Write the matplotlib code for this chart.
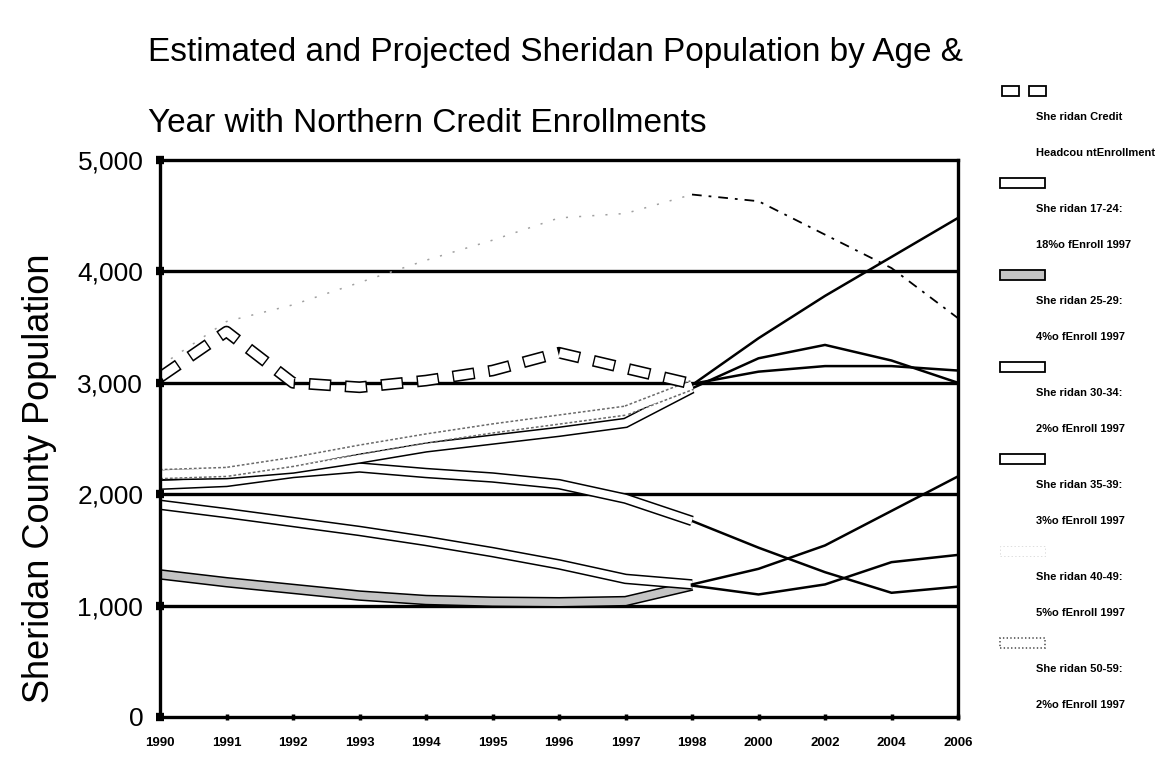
"""Sheridan population by age with credit enrollments"""
import numpy as np
import matplotlib
matplotlib.use("Agg")
import matplotlib.pyplot as plt
from matplotlib.patches import Rectangle

plt.rcParams['font.family'] = ['Liberation Sans', 'DejaVu Sans']
plt.rcParams['lines.scale_dashes'] = False

# categorias del eje x
anios = ['1990', '1991', '1992', '1993', '1994', '1995', '1996', '1997',
         '1998', '2000', '2002', '2004', '2006']

# estimados 1990-1998
matricula = [3050, 3460, 3000, 2960, 3020, 3110, 3270, 3130, 2990]
edad_17_24 = [1905, 1830, 1750, 1670, 1580, 1480, 1370, 1240, 1190]
edad_25_29 = [1280, 1210, 1150, 1090, 1050, 1035, 1030, 1040, 1180]
edad_30_34 = [2085, 2110, 2190, 2240, 2190, 2150, 2090, 1960, 1760]
edad_35_39 = [2170, 2180, 2230, 2320, 2420, 2490, 2560, 2640, 2950]
edad_40_49 = [3150, 3550, 3700, 3900, 4100, 4280, 4480, 4520, 4690]
edad_50_59 = [2180, 2200, 2290, 2400, 2500, 2590, 2670, 2750, 2980]

# proyecciones 1998-2006
proy_matricula = [2990, 3100, 3150, 3150, 3110]
proy_17_24 = [1190, 1330, 1540, 1850, 2160]
proy_25_29 = [1180, 1100, 1190, 1390, 1455]
proy_30_34 = [1760, 1520, 1300, 1115, 1170]
proy_35_39 = [2950, 3220, 3340, 3200, 3000]
proy_40_49 = [4690, 4630, 4330, 4030, 3580]
proy_50_59 = [2980, 3400, 3780, 4130, 4480]

leyenda = [
    ('She ridan Credit', 'Headcou ntEnrollment'),
    ('She ridan 17-24:', '18%o fEnroll 1997'),
    ('She ridan 25-29:', '4%o fEnroll 1997'),
    ('She ridan 30-34:', '2%o fEnroll 1997'),
    ('She ridan 35-39:', '3%o fEnroll 1997'),
    ('She ridan 40-49:', '5%o fEnroll 1997'),
    ('She ridan 50-59:', '2%o fEnroll 1997'),
]

W, H = 1175, 757
fig = plt.figure(figsize=(W / 100, H / 100), dpi=100)
ax = fig.add_axes([160 / W, 1 - 717 / H, 798 / W, 557 / H])

x_hist = np.arange(9)
x_proy = np.arange(8, 13)


def hueca(x, y, interior='white', borde='black', ls_borde='-', z=3):
    """Linea gruesa hueca (borde negro, relleno claro)"""
    ax.plot(x, y, color=borde, lw=7.6, ls=ls_borde, solid_capstyle='butt',
            solid_joinstyle='miter', zorder=z)
    ax.plot(x, y, color=interior, lw=5.4, solid_capstyle='butt',
            solid_joinstyle='miter', zorder=z + 0.1)


# proyecciones finas
for serie in [proy_matricula, proy_17_24, proy_25_29, proy_30_34, proy_35_39, proy_50_59]:
    ax.plot(x_proy, serie, color='black', lw=1.8, zorder=4)
ax.plot(x_proy, proy_40_49, color='black', lw=1.3, ls=(0, (7, 5, 2, 5)), zorder=4)

# estimados huecos
ax.plot(x_hist, edad_40_49, color='#a0a0a0', lw=1.1, ls=(0, (1.5, 8)), zorder=3)
hueca(x_hist, edad_25_29, interior='#c4c4c4', z=3)
hueca(x_hist, edad_17_24, z=3.5)
hueca(x_hist, edad_30_34, z=4)
hueca(x_hist, edad_35_39, z=4.5)
hueca(x_hist, edad_50_59, borde='#6a6a6a', ls_borde=(0, (2, 1.5)), z=5)

# matricula: rectangulos huecos en guiones
ax.plot(x_hist, matricula, color='black', lw=8.5, ls=(0, (16, 10)),
        dash_capstyle='butt', zorder=6)
ax.plot(x_hist, matricula, color='white', lw=6.2, ls=(25, (14, 12)),
        dash_capstyle='butt', zorder=6.1)

# ejes
ax.set_xlim(0, 12)
ax.set_ylim(0, 5000)
ax.set_xticks(range(13))
ax.set_xticklabels(anios, fontsize=9.5, fontweight='bold')
ax.set_yticks([0, 1000, 2000, 3000, 4000, 5000])
ax.set_yticklabels(['0', '1,000', '2,000', '3,000', '4,000', '5,000'], fontsize=19)
ax.tick_params(axis='y', direction='inout', length=6, width=6, pad=9)
ax.tick_params(axis='x', direction='inout', length=5, width=2.5, pad=12)
for y in [1000, 2000, 3000, 4000]:
    ax.axhline(y, color='black', lw=2.4, zorder=1)
for lado in ['left', 'right', 'top', 'bottom']:
    ax.spines[lado].set_linewidth(2.4)
    ax.spines[lado].set_zorder(7)

# titulo y etiqueta
fig.text(148 / W, 1 - 52 / H, 'Estimated and Projected Sheridan Population by Age &',
         fontsize=24, ha='left', va='center')
fig.text(148 / W, 1 - 124 / H, 'Year with Northern Credit Enrollments',
         fontsize=24, ha='left', va='center')
fig.text(40 / W, 1 - 478 / H, 'Sheridan County Population', fontsize=26,
         rotation=90, ha='center', va='center')

# leyenda manual
def caja(x0, y0, w, h, **kw):
    fig.add_artist(Rectangle((x0 / W, 1 - (y0 + h) / H), w / W, h / H,
                             transform=fig.transFigure, **kw))


for i, (l1, l2) in enumerate(leyenda):
    sy = 86 + 92 * i
    if i == 0:
        caja(1002, sy, 17, 10, facecolor='white', edgecolor='black', lw=1.3)
        caja(1029, sy, 17, 10, facecolor='white', edgecolor='black', lw=1.3)
    elif i == 2:
        caja(1000, sy, 45, 10, facecolor='#c4c4c4', edgecolor='black', lw=1.3)
    elif i == 5:
        caja(1000, sy, 45, 10, facecolor='white', edgecolor='#d8d8d8', lw=0.6, ls=':')
    elif i == 6:
        caja(1000, sy, 45, 10, facecolor='white', edgecolor='#555555', lw=1.2, ls=':')
    else:
        caja(1000, sy, 45, 10, facecolor='white', edgecolor='black', lw=1.3)
    fig.text(1036 / W, 1 - (sy + 31) / H, l1, fontsize=8, fontweight='bold', va='center')
    fig.text(1036 / W, 1 - (sy + 67) / H, l2, fontsize=8, fontweight='bold', va='center')

fig.savefig('out.png', dpi=100)
